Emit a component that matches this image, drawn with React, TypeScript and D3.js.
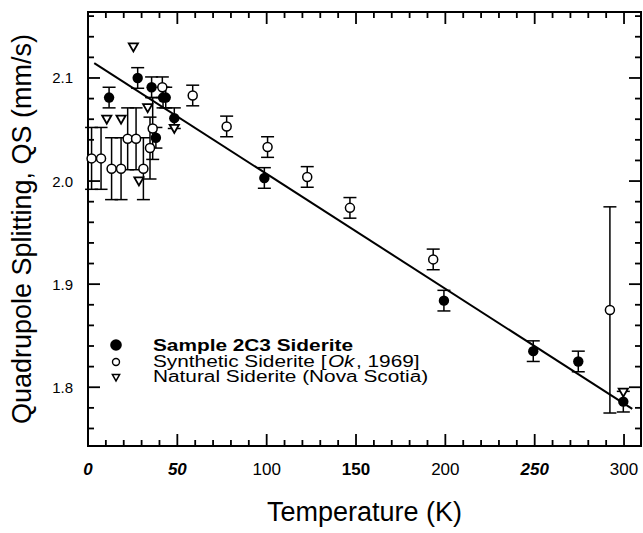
import React from 'react';
import * as d3 from 'd3';

// ---- Data ----
// Sample 2C3 Siderite (filled circles)
const sampleT = [11.8, 27.8, 35.6, 38.0, 42.0, 43.5, 48.3, 98.7, 199.2, 249.2, 274.4, 299.6];
const sampleQS = [2.081, 2.100, 2.091, 2.042, 2.081, 2.081, 2.061, 2.003, 1.884, 1.835, 1.825, 1.786];
const sampleErr = [0.01, 0.01, 0.01, 0.01, 0.01, 0.01, 0.01, 0.01, 0.01, 0.01, 0.01, 0.01];

// Synthetic Siderite [Ok, 1969] (open circles)
const synthT = [2.0, 7.3, 13.2, 18.5, 22.2, 26.9, 31.0, 34.7, 36.2, 41.6, 58.6, 77.6, 100.5, 122.7, 146.6, 193.2, 292.1];
const synthQS = [2.022, 2.022, 2.012, 2.012, 2.041, 2.041, 2.012, 2.032, 2.051, 2.091, 2.083, 2.053, 2.033, 2.004, 1.974, 1.924, 1.875];
const synthErr = [0.03, 0.03, 0.03, 0.03, 0.03, 0.03, 0.03, 0.03, 0.03, 0.01, 0.01, 0.01, 0.01, 0.01, 0.01, 0.01, 0.1];

// Natural Siderite (Nova Scotia) (open down-triangles)
const naturalT = [10.5, 18.5, 25.4, 28.5, 33.4, 48.3, 299.6];
const naturalQS = [2.060, 2.060, 2.130, 2.000, 2.071, 2.051, 1.795];

// Linear fit line endpoints
const fitT = [3.5, 304.6];
const fitQS = [2.1144, 1.779];

// Axis ticks
const xTickValues = [0, 50, 100, 150, 200, 250, 300];
const xTickLabels = ['0', '50', '100', '150', '200', '250', '300'];
const yTickValues = [1.8, 1.9, 2.0, 2.1];
const yTickLabels = ['1.8', '1.9', '2.0', '2.1'];

const legendLabels = ['Sample 2C3 Siderite', 'Synthetic Siderite [', 'Ok', ', 1969]', 'Natural Siderite (Nova Scotia)'];

// label styling per x tick (the scanned original mixes styles)
const xTickStyle: Record<string, { weight: string; italic: boolean }> = {
  '0': { weight: 'bold', italic: true },
  '50': { weight: 'bold', italic: true },
  '100': { weight: 'normal', italic: false },
  '150': { weight: 'bold', italic: false },
  '200': { weight: 'normal', italic: false },
  '250': { weight: 'bold', italic: true },
  '300': { weight: 'normal', italic: false },
};

const W = 643;
const H = 533;
const FONT = "'Liberation Sans', Arial, Helvetica, sans-serif";
const LEG_FS = 16;
const LEG_SX = 1.3;

let measureCtx: CanvasRenderingContext2D | null = null;
function measure(text: string, font: string): number {
  if (!measureCtx && typeof document !== 'undefined') {
    measureCtx = document.createElement('canvas').getContext('2d');
  }
  if (!measureCtx) return text.length * 8;
  measureCtx.font = font;
  return measureCtx.measureText(text).width;
}

export default function App() {
  const x = d3.scaleLinear().domain([0, 309.5]).range([88, 641]);
  const y = d3.scaleLinear().domain([1.743, 2.164]).range([446, 12]);
  const [x0, x1] = x.range();
  const [yb, yt] = y.range();

  const xMinor = d3.range(1, 31).map((k) => k * 10);
  const yMinor = d3.range(88, 109).map((k) => k * 0.02);

  const line = d3
    .line<number>()
    .x((_, i) => x(fitT[i]))
    .y((d) => y(d));

  const cap = 6.5;
  const errBars = (ts: number[], vs: number[], es: number[], key: string) =>
    ts.map((t, i) => {
      const cx = x(t);
      const ya = y(vs[i] + es[i]);
      const yb2 = y(vs[i] - es[i]);
      return (
        <g key={key + i} stroke="#000" strokeWidth={1.5}>
          <line x1={cx} x2={cx} y1={ya} y2={yb2} />
          <line x1={cx - cap} x2={cx + cap} y1={ya} y2={ya} />
          <line x1={cx - cap} x2={cx + cap} y1={yb2} y2={yb2} />
        </g>
      );
    });

  const tri = (cx: number, cy: number, s: number) =>
    `M${cx - s},${cy - s * 0.8}L${cx + s},${cy - s * 0.8}L${cx},${cy + s * 0.95}Z`;

  const fam = "'Liberation Sans', Arial, sans-serif";
  const boldFont = `bold ${LEG_FS}px ${fam}`;
  const regFont = `${LEG_FS}px ${fam}`;
  const itFont = `italic ${LEG_FS}px ${fam}`;
  const L0 = measure(legendLabels[0], boldFont) * LEG_SX;
  const L1 = measure(legendLabels[1], regFont) * LEG_SX;
  const L2 = measure(legendLabels[2], itFont) * LEG_SX;
  const L3 = measure(legendLabels[3], regFont) * LEG_SX;
  const L4 = measure(legendLabels[4], regFont) * LEG_SX;
  const lx = 153;
  const gap = 1.5;

  return (
    <svg
      width={W}
      height={H}
      style={{ position: 'absolute', left: 0, top: 0, background: '#fff' }}
      fontFamily={FONT}
    >
      <rect x={0} y={0} width={W} height={H} fill="#fff" />

      {/* ticks bottom/top */}
      {xMinor.map((t) => {
        const major = t % 50 === 0;
        const len = major ? 12 : 6;
        return (
          <g key={'xt' + t} stroke="#000" strokeWidth={1.8}>
            <line x1={x(t)} x2={x(t)} y1={yb} y2={yb - len} />
            <line x1={x(t)} x2={x(t)} y1={yt} y2={yt + len} />
          </g>
        );
      })}
      {/* ticks left/right */}
      {yMinor.map((v, i) => {
        const k = 88 + i;
        const major = k % 5 === 0;
        const len = major ? 12 : 6;
        const yy = y(v);
        if (yy < yt || yy > yb) return null;
        return (
          <g key={'yt' + k} stroke="#000" strokeWidth={1.8}>
            <line x1={x0} x2={x0 + len} y1={yy} y2={yy} />
            <line x1={x1} x2={x1 - len} y1={yy} y2={yy} />
          </g>
        );
      })}

      {/* frame */}
      <rect x={x0} y={yt} width={x1 - x0} height={yb - yt} fill="none" stroke="#000" strokeWidth={2} />

      {/* x tick labels */}
      {xTickValues.map((t, i) => {
        const st = xTickStyle[xTickLabels[i]];
        return (
          <text
            key={'xl' + t}
            x={x(t)}
            y={475}
            textAnchor="middle"
            fontSize={17}
            fontWeight={st.weight}
            fontStyle={st.italic ? 'italic' : 'normal'}
          >
            {xTickLabels[i]}
          </text>
        );
      })}
      {/* y tick labels */}
      {yTickValues.map((v, i) => (
        <text key={'yl' + v} x={73} y={y(v) + 5.5} textAnchor="end" fontSize={15}>
          {yTickLabels[i]}
        </text>
      ))}

      {/* axis titles */}
      <text x={(x0 + x1) / 2} y={521} textAnchor="middle" fontSize={27}>
        Temperature (K)
      </text>
      <text
        transform={`translate(31,${(yt + yb) / 2}) rotate(-90)`}
        textAnchor="middle"
        fontSize={27}
      >
        Quadrupole Splitting, QS (mm/s)
      </text>

      {/* error bars */}
      {errBars(synthT, synthQS, synthErr, 'es')}
      {errBars(sampleT, sampleQS, sampleErr, 'ef')}

      {/* fit line */}
      <path d={line(fitQS) || ''} fill="none" stroke="#000" strokeWidth={2} />

      {/* markers */}
      {naturalT.map((t, i) => (
        <path
          key={'n' + i}
          d={tri(x(t), y(naturalQS[i]), 4.6)}
          fill="#fff"
          stroke="#000"
          strokeWidth={1.8}
          strokeLinejoin="miter"
        />
      ))}
      {synthT.map((t, i) => (
        <circle key={'s' + i} cx={x(t)} cy={y(synthQS[i])} r={4.5} fill="#fff" stroke="#000" strokeWidth={1.5} />
      ))}
      {sampleT.map((t, i) => (
        <circle key={'f' + i} cx={x(t)} cy={y(sampleQS[i])} r={5.2} fill="#000" />
      ))}

      {/* legend */}
      <circle cx={116} cy={345} r={5.8} fill="#000" />
      <circle cx={116} cy={362} r={3.5} fill="#fff" stroke="#000" strokeWidth={1.4} />
      <path d={tri(116, 377.5, 3.6)} fill="#fff" stroke="#000" strokeWidth={1.5} />
      <g fontSize={LEG_FS}>
        <text x={lx} y={350.5} fontWeight="bold" textLength={L0} lengthAdjust="spacingAndGlyphs">
          {legendLabels[0]}
        </text>
        <text x={lx} y={366.5} textLength={L1} lengthAdjust="spacingAndGlyphs">
          {legendLabels[1]}
        </text>
        <text x={lx + L1 + gap} y={366.5} fontStyle="italic" textLength={L2} lengthAdjust="spacingAndGlyphs">
          {legendLabels[2]}
        </text>
        <text x={lx + L1 + L2 + 2 * gap} y={366.5} textLength={L3} lengthAdjust="spacingAndGlyphs">
          {legendLabels[3]}
        </text>
        <text x={lx} y={382} textLength={L4} lengthAdjust="spacingAndGlyphs">
          {legendLabels[4]}
        </text>
      </g>
    </svg>
  );
}
